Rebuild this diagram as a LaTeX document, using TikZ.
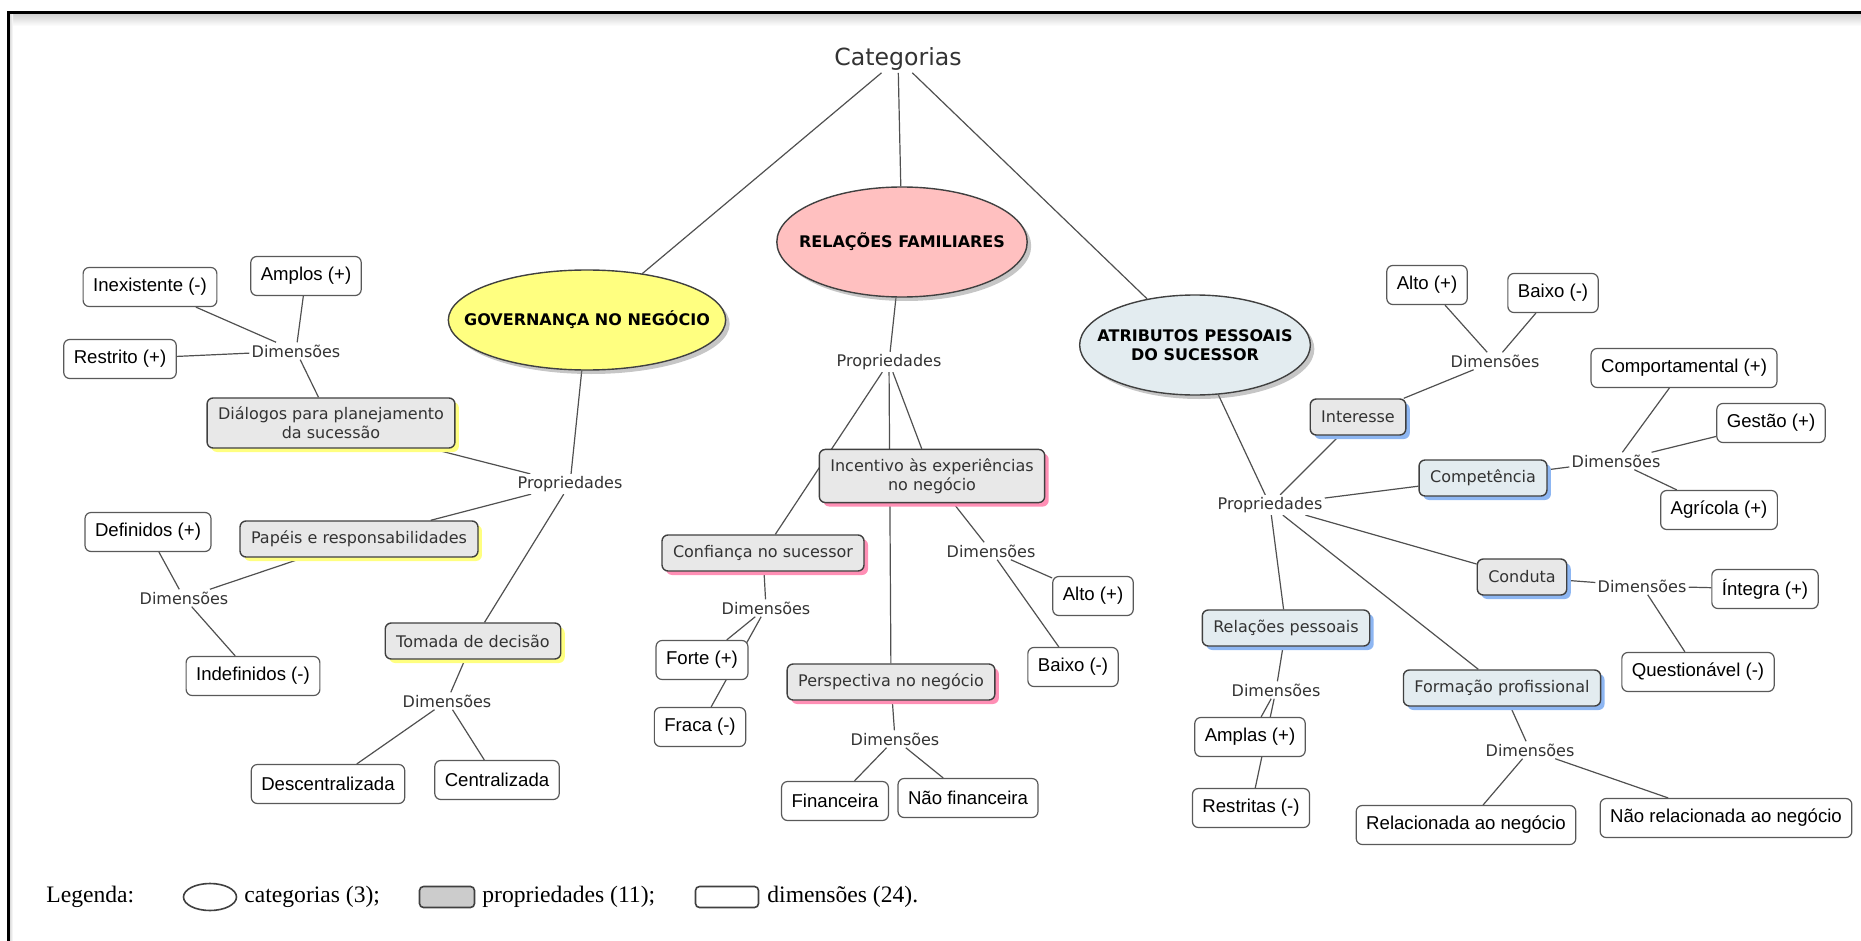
\documentclass[tikz,border=0pt]{standalone}
\usepackage{fontspec}
\setmainfont{DejaVu Sans}
\newfontfamily\dimfont{Liberation Sans}
\newfontfamily\legfont{Liberation Serif}
\usetikzlibrary{shapes.geometric,shadows,backgrounds}
\definecolor{propgray}{HTML}{E8E8E8}
\definecolor{propblue}{HTML}{E3ECF0}
\definecolor{shyellow}{HTML}{FFFF80}
\definecolor{shpink}{HTML}{FF8FB5}
\definecolor{shblue}{HTML}{8DB6F2}
\definecolor{govfill}{HTML}{FFFF80}
\definecolor{relfill}{HTML}{FFC0C0}
\definecolor{atrfill}{HTML}{E3ECF0}
\definecolor{linegray}{HTML}{505050}
\definecolor{textgray}{HTML}{333333}
\begin{document}
\begin{tikzpicture}[x=0.5pt, y=-0.5pt,
    catell/.style = {ellipse, draw=black!75, line width=0.7pt, inner ysep=0pt, align=center,
        font=\fontsize{8}{9.5}\selectfont\bfseries,
        drop shadow={shadow xshift=2pt, shadow yshift=-2pt, opacity=.45}},
    propbox/.style = {rounded corners=3pt, draw=black!75, line width=0.7pt, fill=propgray,
        text=textgray, font=\fontsize{8}{9.5}\selectfont, align=center,
        inner xsep=5.5pt, inner ysep=4.5pt, minimum height=18pt},
    propyel/.style = {propbox, drop shadow={shadow xshift=2pt, shadow yshift=-2pt, fill=shyellow, opacity=1}},
    proppink/.style = {propbox, drop shadow={shadow xshift=2pt, shadow yshift=-2pt, fill=shpink, opacity=1}},
    propblu/.style = {propbox, drop shadow={shadow xshift=2pt, shadow yshift=-2pt, fill=shblue, opacity=1}},
    dimbox/.style = {rounded corners=3pt, draw=black!65, line width=0.6pt, fill=white,
        font=\dimfont\fontsize{9.3}{11}\selectfont, inner xsep=5pt, minimum height=19.5pt},
    linkph/.style = {fill=white, inner sep=1pt, text=textgray, font=\fontsize{8}{9.5}\selectfont},
    link/.style = {draw=linegray, line width=0.6pt},
    legtext/.style = {anchor=west, inner sep=0pt, font=\legfont\fontsize{11.8}{13}\selectfont}
]
    \useasboundingbox (0,0) rectangle (1861,941);
    \shade[top color=black!18, bottom color=white] (10,14) rectangle (1861,26);
    \shade[left color=black!18, right color=white] (9,14) rectangle (13,941);
    \draw[line width=1.2pt] (8.5,941) -- (8.5,12.5) -- (1861,12.5);

    \node[fill=white, inner sep=1pt, text=textgray, font=\fontsize{11.8}{13}\selectfont] (cat) at (898,59) {Categorias};
    \node[catell, fill=govfill, inner xsep=-12.4pt, minimum height=50pt] (gov) at (587,320) {GOVERNANÇA NO NEGÓCIO};
    \node[catell, fill=relfill, inner xsep=-7.2pt, minimum height=55pt] (rel) at (902,242) {RELAÇÕES FAMILIARES};
    \node[catell, fill=atrfill, inner xsep=-8pt, minimum height=50pt] (atr) at (1195,345) {ATRIBUTOS PESSOAIS\\DO SUCESSOR};

    \node[linkph] (pgov) at (570,484) {Propriedades};
    \node[linkph] (prel) at (889,362) {Propriedades};
    \node[linkph] (patr) at (1270,505) {Propriedades};
    \node[linkph] (d1) at (296,351) {Dimensões};
    \node[linkph] (d2) at (184,598) {Dimensões};
    \node[linkph] (d3) at (447,701) {Dimensões};
    \node[linkph] (d4) at (766,608) {Dimensões};
    \node[linkph] (d5) at (991,551) {Dimensões};
    \node[linkph] (d6) at (895,739) {Dimensões};
    \node[linkph] (d7) at (1495,361) {Dimensões};
    \node[linkph] (d8) at (1616,461) {Dimensões};
    \node[linkph] (d9) at (1642,586) {Dimensões};
    \node[linkph] (d10) at (1276,690) {Dimensões};
    \node[linkph] (d11) at (1530,750) {Dimensões};

    \node[propyel] (dia) at (331,423) {Diálogos para planejamento\\da sucessão};
    \node[propyel] (pap) at (359,539) {Papéis e responsabilidades};
    \node[propyel] (tom) at (473,641) {Tomada de decisão};
    \node[proppink] (inc) at (932,476) {Incentivo às experiências\\no negócio};
    \node[proppink] (con) at (763,553) {Confiança no sucessor};
    \node[proppink] (per) at (891,682) {Perspectiva no negócio};
    \node[propblu] (int) at (1358,417) {Interesse};
    \node[propblu, fill=propblue] (cmp) at (1483,478) {Competência};
    \node[propblu] (cdt) at (1522,577) {Conduta};
    \node[propblu, fill=propblue] (rpe) at (1286,628) {Relações pessoais};
    \node[propblu, fill=propblue] (frm) at (1502,688) {Formação profissional};

    \node[dimbox] (inx) at (150,287) {Inexistente (-)};
    \node[dimbox] (amp) at (306,276) {Amplos (+)};
    \node[dimbox] (rst) at (120,359) {Restrito (+)};
    \node[dimbox] (dfn) at (148,532) {Definidos (+)};
    \node[dimbox] (ind) at (253,676) {Indefinidos (-)};
    \node[dimbox] (dsc) at (328,784) {Descentralizada};
    \node[dimbox] (cen) at (497,780) {Centralizada};
    \node[dimbox] (frt) at (702,660) {Forte (+)};
    \node[dimbox] (frc) at (700,727) {Fraca (-)};
    \node[dimbox] (alm) at (1093,596) {Alto (+)};
    \node[dimbox] (bxm) at (1073,667) {Baixo (-)};
    \node[dimbox] (fin) at (835,801) {Financeira};
    \node[dimbox] (nfi) at (968,798) {Não financeira};
    \node[dimbox] (alr) at (1427,285) {Alto (+)};
    \node[dimbox] (bxr) at (1553,293) {Baixo (-)};
    \node[dimbox] (cpt) at (1684,368) {Comportamental (+)};
    \node[dimbox] (gst) at (1771,423) {Gestão (+)};
    \node[dimbox] (agr) at (1719,510) {Agrícola (+)};
    \node[dimbox] (itg) at (1765,589) {Íntegra (+)};
    \node[dimbox] (qst) at (1698,672) {Questionável (-)};
    \node[dimbox] (apl) at (1250,737) {Amplas (+)};
    \node[dimbox] (rsa) at (1251,808) {Restritas (-)};
    \node[dimbox] (rng) at (1466,825) {Relacionada ao negócio};
    \node[dimbox] (nrl) at (1726,818) {Não relacionada ao negócio};

    \begin{pgfonlayer}{background}
        \draw[link] (cat) -- (gov) (cat) -- (rel) (cat) -- (atr);
        \draw[link] (gov) -- (pgov) (pgov) -- (dia) (pgov) -- (pap) (pgov) -- (tom);
        \draw[link] (dia) -- (d1) (d1) -- (inx) (d1) -- (amp) (d1) -- (rst);
        \draw[link] (pap) -- (d2) (d2) -- (dfn) (d2) -- (ind);
        \draw[link] (tom) -- (d3) (d3) -- (dsc) (d3) -- (cen);
        \draw[link] (rel) -- (prel) (prel) -- (inc) (prel) -- (con) (prel) -- (per);
        \draw[link] (con) -- (d4) (d4) -- (frt) (d4) -- (frc);
        \draw[link] (inc) -- (d5) (d5) -- (alm) (d5) -- (bxm);
        \draw[link] (per) -- (d6) (d6) -- (fin) (d6) -- (nfi);
        \draw[link] (atr) -- (patr) (patr) -- (int) (patr) -- (cmp) (patr) -- (cdt)
            (patr) -- (rpe) (patr) -- (frm);
        \draw[link] (int) -- (d7) (d7) -- (alr) (d7) -- (bxr);
        \draw[link] (cmp) -- (d8) (d8) -- (cpt) (d8) -- (gst) (d8) -- (agr);
        \draw[link] (cdt) -- (d9) (d9) -- (itg) (d9) -- (qst);
        \draw[link] (rpe) -- (d10) (d10) -- (apl) (d10) -- (rsa);
        \draw[link] (frm) -- (d11) (d11) -- (rng) (d11) -- (nrl);
    \end{pgfonlayer}

    \node[legtext] (leg) at (46,897) {Legenda:};
    \node[ellipse, draw=black!75, line width=0.8pt, minimum width=26.5pt, minimum height=13.5pt, inner sep=0pt] (legcat) at (210,897) {};
    \node[legtext] (legcatt) at (244,897) {categorias (3);};
    \node[rounded corners=2pt, draw=black!75, line width=0.8pt, fill=black!20, minimum width=27.5pt, minimum height=10.5pt, inner sep=0pt] (legprop) at (447,897) {};
    \node[legtext] (legpropt) at (482,897) {propriedades (11);};
    \node[rounded corners=2pt, draw=black!75, line width=0.8pt, fill=white, minimum width=31.5pt, minimum height=10.5pt, inner sep=0pt] (legdim) at (727,897) {};
    \node[legtext] (legdimt) at (767,897) {dimensões (24).};
\end{tikzpicture}
\end{document}
